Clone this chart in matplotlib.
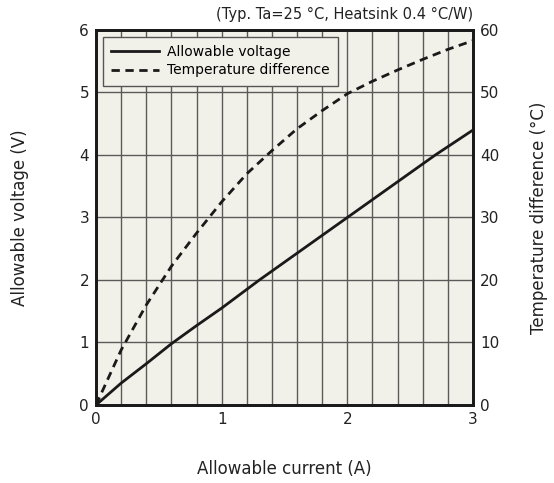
import numpy as np
import matplotlib
matplotlib.use("Agg")
import matplotlib.pyplot as plt

# data
current_v = [0, 0.2, 0.4, 0.6, 0.8, 1.0, 1.3, 2.0, 2.7, 3.0]
voltage = [0, 0.35, 0.66, 0.98, 1.27, 1.55, 2.0, 3.0, 4.0, 4.4]

current_t = [0, 0.2, 0.4, 0.6, 0.8, 1.0, 1.2, 1.4, 1.6, 1.8, 2.0, 2.2, 2.4, 2.6, 2.8, 3.0]
temp_diff = [0, 8.8, 16, 22.2, 27.5, 32.5, 37, 40.7, 44.2, 47.1, 49.8, 51.8, 53.6, 55.3, 56.9, 58.3]

bg = "#f2f1e9"
plt.rcParams['font.family'] = ['DejaVu Sans']

fig = plt.figure(figsize=(5.54, 4.83), dpi=100)
ax = fig.add_axes([0.1733, 0.1615, 0.6805, 0.7764])
ax.set_facecolor(bg)

ax.set_xlim(0, 3)
ax.set_ylim(0, 6)
ax.set_xticks([0, 1, 2, 3])
ax.set_xticks(np.arange(0, 3.01, 0.2), minor=True)
ax.set_yticks(range(7))
ax.grid(True, which='both', axis='x', color='#5a5a5a', lw=1)
ax.grid(True, which='major', axis='y', color='#5a5a5a', lw=1)
ax.set_axisbelow(True)
ax.tick_params(which='both', length=0, labelsize=11, pad=5, colors='#222222')

l1, = ax.plot(current_v, voltage, color='#1a1a1a', lw=2, label='Allowable voltage')

ax2 = ax.twinx()
ax2.set_ylim(0, 60)
ax2.set_yticks(range(0, 61, 10))
ax2.tick_params(length=0, labelsize=11, pad=5, colors='#222222')
l2, = ax2.plot(current_t, temp_diff, color='#1a1a1a', lw=2, dashes=(3, 2),
               label='Temperature difference')

for a in (ax, ax2):
    for s in a.spines.values():
        s.set_linewidth(2)
        s.set_color('#1a1a1a')

ax.set_xlabel('Allowable current (A)', fontsize=12, labelpad=24, color='#222222')
ax.set_ylabel('Allowable voltage (V)', fontsize=12, labelpad=36, color='#222222')
ax2.set_ylabel('Temperature difference (°C)', fontsize=12, labelpad=22, color='#222222')

leg = ax2.legend(handles=[l1, l2], loc='upper left', fontsize=10,
                 fancybox=False, framealpha=1, facecolor=bg, edgecolor='#555555',
                 borderaxespad=0.5, handlelength=3.4, handletextpad=0.6,
                 labelspacing=0.3, borderpad=0.6)
leg.get_frame().set_linewidth(1)

ax.text(1.0, 1.02, '(Typ. Ta=25 °C, Heatsink 0.4 °C/W)', transform=ax.transAxes,
        ha='right', va='bottom', fontsize=10.5, color='#222222')

fig.savefig('out.png', dpi=100)
